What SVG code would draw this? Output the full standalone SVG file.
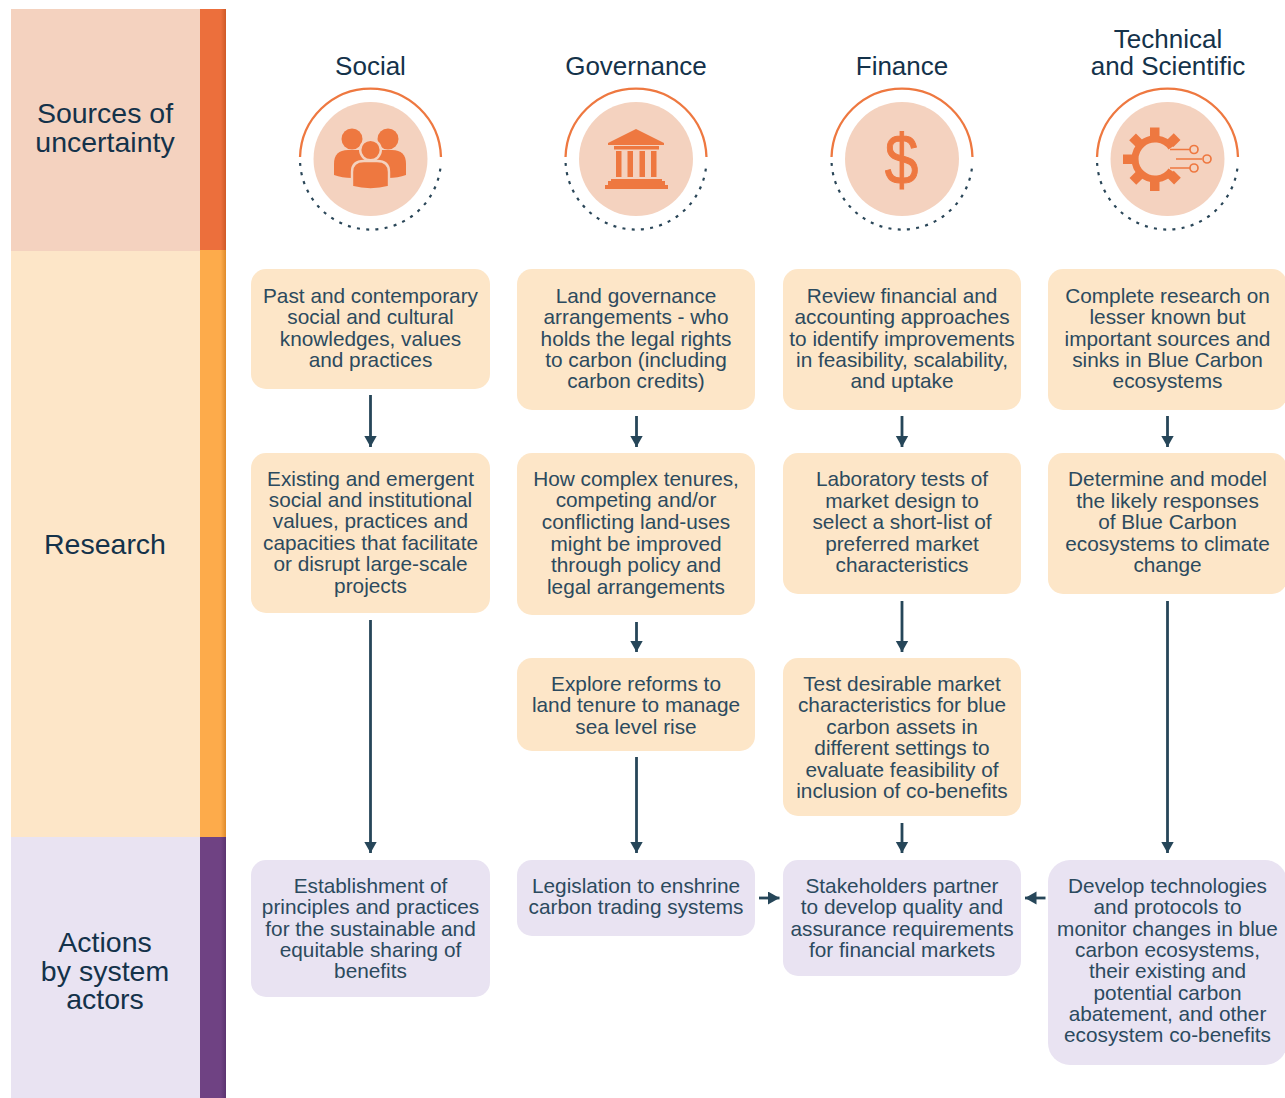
<svg xmlns="http://www.w3.org/2000/svg" width="1285" height="1098" viewBox="0 0 1285 1098">
<style>
text{font-family:"Liberation Sans",Arial,sans-serif;text-anchor:middle;}
.h{font-size:26px;fill:#14324a}
.s{font-size:28.500px;fill:#14324a}
.b{font-size:20.800px;fill:#2c4a5e}
.o{fill:#ee7840}
.d{fill:#f4d2bf}
.ao{fill:none;stroke:#ee7840;stroke-width:2.300}
.ad{fill:none;stroke:#2a4658;stroke-width:2.200;stroke-dasharray:3 6.300}
.y{fill:#fde6c8}
.p{fill:#e9e3f2}
.c{fill:none;stroke:#264659;stroke-width:2.800}
</style>
<defs>
<linearGradient id="g1" x1="0" x2="1" y1="0" y2="0"><stop offset="0.8" stop-color="#ec6f3c"/><stop offset="1" stop-color="#cf5a27"/></linearGradient>
<linearGradient id="g2" x1="0" x2="1" y1="0" y2="0"><stop offset="0.8" stop-color="#fdab4b"/><stop offset="1" stop-color="#df8a2a"/></linearGradient>
<linearGradient id="g3" x1="0" x2="1" y1="0" y2="0"><stop offset="0.8" stop-color="#6f4283"/><stop offset="1" stop-color="#5c3470"/></linearGradient>
<marker id="ah" markerUnits="userSpaceOnUse" markerWidth="13" markerHeight="14" refX="11.500" refY="6.500" orient="auto"><path d="M0 0L11.500 6.500L0 13Z" fill="#264659"/></marker>
</defs>
<g id="band-sources"><rect x="11" y="9" width="189" height="242" class="d"/><rect x="200" y="9" width="26" height="242" fill="url(#g1)"/>
<text class="s" x="105" y="122.500">Sources of</text><text class="s" x="105" y="151.500">uncertainty</text></g>
<g id="band-research"><rect x="11" y="251" width="189" height="586" class="y"/><rect x="200" y="250" width="26" height="587" fill="url(#g2)"/>
<text class="s" x="105" y="553.500">Research</text></g>
<g id="band-actions"><rect x="11" y="837" width="189" height="261" class="p"/><rect x="200" y="837" width="26" height="261" fill="url(#g3)"/>
<text class="s" x="105" y="951.500">Actions</text><text class="s" x="105" y="980.500">by system</text><text class="s" x="105" y="1008.500">actors</text></g>

<g id="head-social"><text class="h" x="370.500" y="75">Social</text>
<circle cx="370.500" cy="159" r="57" class="d"/><path class="ao" d="M300.030 157A70.500 70.500 0 0 1 440.970 157"/><path class="ad" d="M300.110 163A70.500 70.500 0 0 0 440.890 163"/>
<circle cx="352" cy="139" r="10.500" class="o"/><circle cx="388" cy="139" r="10.500" class="o"/>
<path class="o" d="M334 175V164Q334 150 348 150H370V178H352Q342 178 334 175Z"/>
<path class="o" d="M406 175V164Q406 150 392 150H371V178H388Q398 178 406 175Z"/>
<circle cx="370.500" cy="150" r="10.300" class="o" stroke="#f4d2bf" stroke-width="2.400"/>
<path class="o" stroke="#f4d2bf" stroke-width="2.400" d="M352 187V172Q352 161 364 161H377Q389 161 389 172V187Q370.500 192 352 187Z"/></g>

<g id="head-governance"><text class="h" x="636" y="75">Governance</text>
<circle cx="636" cy="159" r="57" class="d"/><path class="ao" d="M565.530 157A70.500 70.500 0 0 1 706.470 157"/><path class="ad" d="M565.610 163A70.500 70.500 0 0 0 706.390 163"/>
<path class="o" d="M636 129L664 143V145H608V143Z"/><rect x="614" y="146" width="45" height="3.500" class="o"/>
<rect x="616" y="151" width="5.500" height="26" class="o"/><rect x="627.500" y="151" width="5.500" height="26" class="o"/><rect x="639.500" y="151" width="5.500" height="26" class="o"/><rect x="651" y="151" width="5.500" height="26" class="o"/>
<rect x="611" y="179" width="51" height="2.500" class="o"/><rect x="608" y="181" width="57" height="4.500" class="o"/><rect x="605" y="185" width="63" height="4" class="o"/></g>

<g id="head-finance"><text class="h" x="902" y="75">Finance</text>
<circle cx="902" cy="159" r="57" class="d"/><path class="ao" d="M831.530 157A70.500 70.500 0 0 1 972.470 157"/><path class="ad" d="M831.610 163A70.500 70.500 0 0 0 972.390 163"/>
<text transform="translate(901.500 184) scale(.85 1)" x="0" y="0" style="font-size:71px;fill:#ee7840;stroke:#ee7840;stroke-width:1">$</text></g>

<g id="head-technical"><text class="h" x="1168" y="48">Technical</text><text class="h" x="1168" y="75">and Scientific</text>
<circle cx="1167.500" cy="159" r="57" class="d"/><path class="ao" d="M1097.030 157A70.500 70.500 0 0 1 1237.970 157"/><path class="ad" d="M1097.110 163A70.500 70.500 0 0 0 1237.890 163"/>
<path d="M1171.400 147.500A20 20 0 1 0 1171.400 170.500" fill="none" stroke="#ee7840" stroke-width="7"/>
<g class="o"><rect x="1150" y="127.500" width="9.500" height="10"/><rect x="1150" y="181" width="9.500" height="10"/><rect x="1123" y="154.500" width="10" height="9.500"/>
<rect x="1150" y="127.500" width="9.500" height="10" transform="rotate(45 1155 159)"/><rect x="1150" y="127.500" width="9.500" height="10" transform="rotate(-45 1155 159)"/><rect x="1150" y="127.500" width="9.500" height="10" transform="rotate(-135 1155 159)"/><rect x="1150" y="127.500" width="9.500" height="10" transform="rotate(135 1155 159)"/></g>
<g fill="none" stroke="#ee7840" stroke-width="1.700"><path d="M1170 149.500H1190M1176 159H1202M1170 168H1190"/><circle cx="1194" cy="149.500" r="4"/><circle cx="1207" cy="159" r="4"/><circle cx="1194" cy="168" r="4"/></g></g>

<g id="connectors">
<path class="c" marker-end="url(#ah)" d="M370.500 395V447"/>
<path class="c" marker-end="url(#ah)" d="M370.500 620V853"/>
<path class="c" marker-end="url(#ah)" d="M636.500 416V447"/>
<path class="c" marker-end="url(#ah)" d="M636.500 622V652"/>
<path class="c" marker-end="url(#ah)" d="M636.500 757V853"/>
<path class="c" marker-end="url(#ah)" d="M902 416V447"/>
<path class="c" marker-end="url(#ah)" d="M902 601V652"/>
<path class="c" marker-end="url(#ah)" d="M902 823V853"/>
<path class="c" marker-end="url(#ah)" d="M1167.500 416V447"/>
<path class="c" marker-end="url(#ah)" d="M1167.500 601V853"/>
<path class="c" marker-end="url(#ah)" d="M759 898H779.500"/>
<path class="c" marker-end="url(#ah)" d="M1045.500 898H1025"/>
</g>

<g id="n-s1"><rect x="251" y="269" width="239" height="120" rx="15" class="y"/><text class="b"><tspan x="370.500" y="303">Past and contemporary</tspan><tspan x="370.500" y="324">social and cultural</tspan><tspan x="370.500" y="346">knowledges, values</tspan><tspan x="370.500" y="367">and practices</tspan></text></g>
<g id="n-s2"><rect x="251" y="453" width="239" height="160" rx="15" class="y"/><text class="b"><tspan x="370.500" y="486">Existing and emergent</tspan><tspan x="370.500" y="507">social and institutional</tspan><tspan x="370.500" y="528">values, practices and</tspan><tspan x="370.500" y="550">capacities that facilitate</tspan><tspan x="370.500" y="571">or disrupt large-scale</tspan><tspan x="370.500" y="593">projects</tspan></text></g>
<g id="n-s3"><rect x="251" y="860" width="239" height="137" rx="15" class="p"/><text class="b"><tspan x="370.500" y="893">Establishment of</tspan><tspan x="370.500" y="914">principles and practices</tspan><tspan x="370.500" y="936">for the sustainable and</tspan><tspan x="370.500" y="957">equitable sharing of</tspan><tspan x="370.500" y="978">benefits</tspan></text></g>

<g id="n-g1"><rect x="517" y="269" width="238" height="141" rx="15" class="y"/><text class="b"><tspan x="636" y="303">Land governance</tspan><tspan x="636" y="324">arrangements - who</tspan><tspan x="636" y="346">holds the legal rights</tspan><tspan x="636" y="367">to carbon (including</tspan><tspan x="636" y="388">carbon credits)</tspan></text></g>
<g id="n-g2"><rect x="517" y="453" width="238" height="162" rx="15" class="y"/><text class="b"><tspan x="636" y="486">How complex tenures,</tspan><tspan x="636" y="507">competing and/or</tspan><tspan x="636" y="529">conflicting land-uses</tspan><tspan x="636" y="551">might be improved</tspan><tspan x="636" y="572">through policy and</tspan><tspan x="636" y="594">legal arrangements</tspan></text></g>
<g id="n-g3"><rect x="517" y="658" width="238" height="93" rx="15" class="y"/><text class="b"><tspan x="636" y="691">Explore reforms to</tspan><tspan x="636" y="712">land tenure to manage</tspan><tspan x="636" y="734">sea level rise</tspan></text></g>
<g id="n-g4"><rect x="517" y="860" width="238" height="76" rx="15" class="p"/><text class="b"><tspan x="636" y="893">Legislation to enshrine</tspan><tspan x="636" y="914">carbon trading systems</tspan></text></g>

<g id="n-f1"><rect x="783" y="269" width="238" height="141" rx="15" class="y"/><text class="b"><tspan x="902" y="303">Review financial and</tspan><tspan x="902" y="324">accounting approaches</tspan><tspan x="902" y="346">to identify improvements</tspan><tspan x="902" y="367">in feasibility, scalability,</tspan><tspan x="902" y="388">and uptake</tspan></text></g>
<g id="n-f2"><rect x="783" y="453" width="238" height="141" rx="15" class="y"/><text class="b"><tspan x="902" y="486">Laboratory tests of</tspan><tspan x="902" y="508">market design to</tspan><tspan x="902" y="529">select a short-list of</tspan><tspan x="902" y="551">preferred market</tspan><tspan x="902" y="572">characteristics</tspan></text></g>
<g id="n-f3"><rect x="783" y="658" width="238" height="158" rx="15" class="y"/><text class="b"><tspan x="902" y="691">Test desirable market</tspan><tspan x="902" y="712">characteristics for blue</tspan><tspan x="902" y="734">carbon assets in</tspan><tspan x="902" y="755">different settings to</tspan><tspan x="902" y="777">evaluate feasibility of</tspan><tspan x="902" y="798">inclusion of co-benefits</tspan></text></g>
<g id="n-f4"><rect x="783" y="860" width="238" height="116" rx="15" class="p"/><text class="b"><tspan x="902" y="893">Stakeholders partner</tspan><tspan x="902" y="914">to develop quality and</tspan><tspan x="902" y="936">assurance requirements</tspan><tspan x="902" y="957">for financial markets</tspan></text></g>

<g id="n-t1"><rect x="1048" y="269" width="239" height="141" rx="15" class="y"/><text class="b"><tspan x="1167.500" y="303">Complete research on</tspan><tspan x="1167.500" y="324">lesser known but</tspan><tspan x="1167.500" y="346">important sources and</tspan><tspan x="1167.500" y="367">sinks in Blue Carbon</tspan><tspan x="1167.500" y="388">ecosystems</tspan></text></g>
<g id="n-t2"><rect x="1048" y="453" width="239" height="141" rx="15" class="y"/><text class="b"><tspan x="1167.500" y="486">Determine and model</tspan><tspan x="1167.500" y="508">the likely responses</tspan><tspan x="1167.500" y="529">of Blue Carbon</tspan><tspan x="1167.500" y="551">ecosystems to climate</tspan><tspan x="1167.500" y="572">change</tspan></text></g>
<g id="n-t3"><rect x="1048" y="860" width="239" height="205" rx="22" class="p"/><text class="b"><tspan x="1167.500" y="893">Develop technologies</tspan><tspan x="1167.500" y="914">and protocols to</tspan><tspan x="1167.500" y="936">monitor changes in blue</tspan><tspan x="1167.500" y="957">carbon ecosystems,</tspan><tspan x="1167.500" y="978">their existing and</tspan><tspan x="1167.500" y="1000">potential carbon</tspan><tspan x="1167.500" y="1021">abatement, and other</tspan><tspan x="1167.500" y="1042">ecosystem co-benefits</tspan></text></g>
</svg>
